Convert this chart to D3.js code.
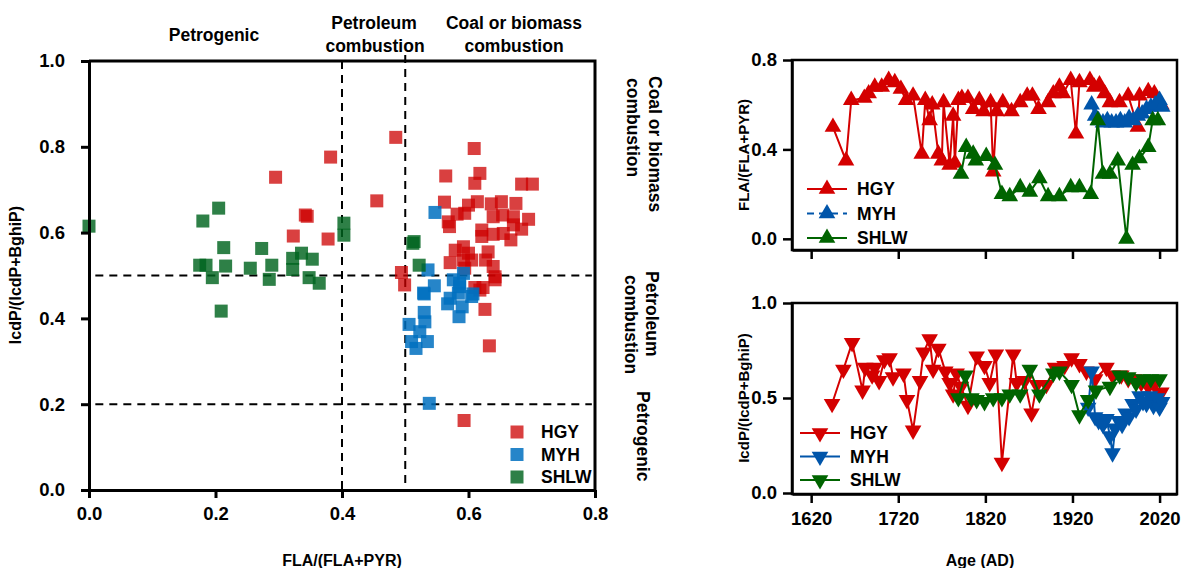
<!DOCTYPE html>
<html>
<head>
<meta charset="utf-8">
<script src="https://cdn.jsdelivr.net/npm/d3@7"></script>
<style>
  body { margin: 0; background: #fff; }
  text { font-family: "Liberation Sans", Arial, sans-serif; font-weight: bold; fill: #000; }
</style>
</head>
<body>
<div id="main-diagram"></div>
<script>
// ---- scatter data : FLA/(FLA+PYR) vs IcdP/(IcdP+BghiP)
const hgyFla = [0.382, 0.295, 0.342, 0.345, 0.323, 0.378, 0.485, 0.455, 0.609, 0.564, 0.618, 0.610, 0.684, 0.701,
  0.562, 0.614, 0.600, 0.636, 0.652, 0.675, 0.639, 0.654, 0.671, 0.695, 0.568, 0.582, 0.594, 0.570, 0.671, 0.684,
  0.621, 0.621, 0.639, 0.655, 0.667, 0.592, 0.579, 0.600, 0.605, 0.631, 0.627, 0.639, 0.571, 0.592, 0.594, 0.642,
  0.494, 0.499, 0.610, 0.623, 0.626, 0.633, 0.593, 0.618, 0.642]
const hgyIcd = [0.776, 0.729, 0.641, 0.638, 0.592, 0.585, 0.822, 0.674, 0.796, 0.732, 0.738, 0.715, 0.713, 0.713,
  0.671, 0.672, 0.664, 0.667, 0.672, 0.668, 0.637, 0.641, 0.637, 0.631, 0.625, 0.643, 0.645, 0.614, 0.618, 0.608,
  0.606, 0.591, 0.596, 0.598, 0.583, 0.567, 0.559, 0.552, 0.536, 0.555, 0.536, 0.521, 0.530, 0.536, 0.517, 0.497,
  0.507, 0.478, 0.472, 0.472, 0.421, 0.336, 0.162, 0.466, 0.490]

const myhFla = [0.547, 0.536, 0.546, 0.529, 0.576, 0.592, 0.586, 0.605, 0.571, 0.530, 0.567, 0.584, 0.590, 0.585,
  0.607, 0.530, 0.531, 0.506, 0.523, 0.510, 0.535, 0.517, 0.538, 0.586]
const myhIcd = [0.647, 0.513, 0.476, 0.459, 0.490, 0.505, 0.474, 0.451, 0.447, 0.457, 0.434, 0.459, 0.427, 0.404,
  0.457, 0.414, 0.392, 0.386, 0.369, 0.346, 0.346, 0.330, 0.202, 0.482]

const shlwFla = [0.000, 0.180, 0.205, 0.213, 0.273, 0.175, 0.185, 0.195, 0.216, 0.255, 0.289, 0.285, 0.322, 0.322,
  0.336, 0.353, 0.348, 0.364, 0.403, 0.403, 0.209, 0.514, 0.512, 0.522]
const shlwIcd = [0.615, 0.627, 0.657, 0.565, 0.563, 0.524, 0.524, 0.495, 0.522, 0.517, 0.524, 0.491, 0.540, 0.514,
  0.552, 0.538, 0.495, 0.482, 0.622, 0.594, 0.417, 0.579, 0.575, 0.524]

// ---- time series : FLA/(FLA+PYR)
const hgyFlaYears = [1645, 1660, 1666, 1681, 1686, 1693, 1701, 1709, 1716, 1723, 1729, 1737, 1747, 1751, 1756, 1759,
  1766, 1770, 1772, 1779, 1783, 1785, 1789, 1793, 1800, 1806, 1813, 1818, 1826, 1829, 1833, 1840, 1850, 1860, 1868,
  1874, 1881, 1892, 1898, 1905, 1909, 1918, 1924, 1928, 1940, 1945, 1951, 1957, 1963, 1974, 1984, 1995, 1997, 2007,
  2014, 2022]
const hgyFlaValues = [0.50, 0.35, 0.62, 0.63, 0.65, 0.68, 0.68, 0.71, 0.70, 0.67, 0.62, 0.64, 0.38, 0.62, 0.53, 0.60,
  0.38, 0.35, 0.61, 0.33, 0.55, 0.34, 0.62, 0.63, 0.63, 0.58, 0.62, 0.57, 0.61, 0.30, 0.57, 0.61, 0.57, 0.61, 0.64,
  0.64, 0.58, 0.61, 0.65, 0.68, 0.65, 0.71, 0.47, 0.70, 0.71, 0.68, 0.69, 0.65, 0.61, 0.61, 0.64, 0.50, 0.64, 0.66,
  0.65, 0.60]
const myhFlaYears = [1942, 1946, 1950, 1955, 1960, 1965, 1970, 1975, 1980, 1985, 1990, 1995, 2000, 2005, 2010, 2015,
  2020, 2023]
const myhFlaValues = [0.60, 0.55, 0.53, 0.52, 0.53, 0.52, 0.52, 0.53, 0.52, 0.54, 0.53, 0.55, 0.56, 0.58, 0.59, 0.60,
  0.62, 0.59]
const shlwFlaYears = [1792, 1798, 1806, 1809, 1821, 1831, 1839, 1848, 1860, 1871, 1882, 1892, 1905, 1918, 1928, 1941,
  1949, 1955, 1963, 1972, 1982, 1989, 1997, 2007, 2012, 2018]
const shlwFlaValues = [0.29, 0.41, 0.38, 0.35, 0.37, 0.33, 0.20, 0.19, 0.23, 0.21, 0.27, 0.19, 0.19, 0.23, 0.23, 0.20,
  0.53, 0.29, 0.29, 0.35, 0.00, 0.33, 0.36, 0.41, 0.53, 0.53]

// ---- time series : IcdP/(IcdP+BghiP)
const hgyIcdYears = [1644, 1657, 1667, 1679, 1682, 1690, 1693, 1698, 1704, 1710, 1714, 1726, 1730, 1737, 1745, 1749,
  1756, 1760, 1766, 1774, 1779, 1783, 1787, 1792, 1800, 1810, 1819, 1825, 1832, 1839, 1852, 1856, 1865, 1873, 1879,
  1890, 1900, 1911, 1919, 1928, 1936, 1946, 1959, 1966, 1976, 1984, 1991, 1999, 2007, 2014, 2022]
const hgyIcdValues = [0.47, 0.65, 0.79, 0.54, 0.66, 0.62, 0.66, 0.59, 0.70, 0.71, 0.61, 0.63, 0.49, 0.33, 0.59, 0.74,
  0.81, 0.65, 0.76, 0.64, 0.58, 0.52, 0.63, 0.56, 0.46, 0.72, 0.67, 0.58, 0.73, 0.16, 0.73, 0.58, 0.59, 0.42, 0.57,
  0.57, 0.66, 0.67, 0.71, 0.68, 0.64, 0.60, 0.66, 0.62, 0.62, 0.60, 0.60, 0.58, 0.56, 0.57, 0.53]
const myhIcdYears = [1938, 1942, 1946, 1950, 1955, 1959, 1963, 1966, 1969, 1973, 1977, 1981, 1985, 1989, 1993, 1997,
  2001, 2005, 2009, 2013, 2017, 2020, 2023]
const myhIcdValues = [0.45, 0.64, 0.40, 0.38, 0.36, 0.39, 0.30, 0.21, 0.34, 0.38, 0.36, 0.42, 0.40, 0.47, 0.44, 0.51,
  0.48, 0.47, 0.51, 0.46, 0.50, 0.45, 0.48]
const shlwIcdYears = [1789, 1797, 1804, 1810, 1819, 1829, 1839, 1848, 1860, 1871, 1882, 1898, 1905, 1919, 1928, 1938,
  1947, 1963, 1974, 1984, 1993, 2001, 2010, 2020]
const shlwIcdValues = [0.50, 0.62, 0.50, 0.49, 0.48, 0.50, 0.50, 0.52, 0.52, 0.65, 0.52, 0.63, 0.64, 0.57, 0.41, 0.49,
  0.54, 0.56, 0.62, 0.61, 0.58, 0.60, 0.60, 0.60]

const sites = ['HGY', 'MYH', 'SHLW']
const squareColors = ['#cc0000', '#0070c0', '#00641e']
const squareOpacity = [0.75, 0.85, 0.82]
const lineColors = ['#d40000', '#0055aa', '#006400']

const xTicksLeft = [0, 0.2, 0.4, 0.6, 0.8]
const yTicksLeft = [0, 0.2, 0.4, 0.6, 0.8, 1.0]
const yearTicks = [1620, 1720, 1820, 1920, 2020]
const flaTicks = [0, 0.4, 0.8]
const icdTicks = [0, 0.5, 1.0]

const width = 1182
const height = 568

const svg = d3.select('#main-diagram')
  .append('svg')
  .attr('width', width)
  .attr('height', height)
  .style('display', 'block')

svg.append('rect').attr('width', width).attr('height', height).attr('fill', '#fff')

const f1 = d3.format('.1f')

function styleAxis(g, w) {
  g.select('.domain').attr('stroke', '#000').attr('stroke-width', w)
  g.selectAll('.tick line').attr('stroke', '#000').attr('stroke-width', w)
  g.selectAll('.tick text').style('font-size', '18.5px').style('font-family', '"Liberation Sans", Arial, sans-serif')
    .style('font-weight', 'bold').attr('fill', '#000')
}

// ================= left scatter =================
const x = d3.scaleLinear().domain([0, 0.8]).range([89, 595])
const y = d3.scaleLinear().domain([0, 1]).range([490, 61])

// dashed guide lines
const dash = svg.append('g').attr('stroke', '#000').attr('stroke-width', 2).attr('stroke-dasharray', '8,6')
dash.append('line').attr('x1', x(0.4)).attr('x2', x(0.4)).attr('y1', y(1)).attr('y2', y(0))
dash.append('line').attr('x1', x(0.5)).attr('x2', x(0.5)).attr('y1', y(1) - 6).attr('y2', y(0))
dash.append('line').attr('x1', x(0.01)).attr('x2', x(0.795)).attr('y1', y(0.5)).attr('y2', y(0.5))
dash.append('line').attr('x1', x(0.01)).attr('x2', x(0.795)).attr('y1', y(0.2)).attr('y2', y(0.2))

const scatterSets = [[hgyFla, hgyIcd], [myhFla, myhIcd], [shlwFla, shlwIcd]]
const sq = 13
scatterSets.forEach(function (s, i) {
  svg.append('g').selectAll('rect')
    .data(s[0].map(function (v, j) { return [v, s[1][j]] }))
    .enter()
    .append('rect')
    .attr('x', function (d) { return x(d[0]) - sq / 2 })
    .attr('y', function (d) { return y(d[1]) - sq / 2 })
    .attr('width', sq)
    .attr('height', sq)
    .attr('fill', squareColors[i])
    .attr('fill-opacity', squareOpacity[i])
})

// frame
svg.append('path').attr('d', `M${x(0)},${y(1)}H${x(0.8)}V${y(0)}`)
  .attr('fill', 'none').attr('stroke', '#000').attr('stroke-width', 3)

svg.append('g').attr('transform', `translate(0,${y(0)})`)
  .call(d3.axisBottom(x).tickValues(xTicksLeft).tickFormat(f1).tickSize(8).tickPadding(9).tickSizeOuter(0))
  .call(g => styleAxis(g, 3))
svg.append('g').attr('transform', `translate(${x(0)},0)`)
  .call(d3.axisLeft(y).tickValues(yTicksLeft).tickFormat(f1).tickSize(8).tickPadding(16).tickSizeOuter(0))
  .call(g => styleAxis(g, 3))

// legend (squares)
sites.forEach(function (name, i) {
  const ly = 432 + i * 22.5
  svg.append('rect').attr('x', 517 - sq / 2).attr('y', ly - sq / 2).attr('width', sq).attr('height', sq)
    .attr('fill', squareColors[i]).attr('fill-opacity', squareOpacity[i])
  svg.append('text').attr('x', 541).attr('y', ly).attr('dy', '0.36em').style('font-size', '17.5px').text(name)
})

// region labels on top
function label(txt, px, py, size) {
  return svg.append('text').attr('x', px).attr('y', py).attr('text-anchor', 'middle')
    .style('font-size', (size || 17.5) + 'px').text(txt)
}
label('Petrogenic', 214, 41)
label('Petroleum', 374, 29)
label('combustion', 375, 52)
label('Coal or biomass', 514, 29)
label('combustion', 514, 52)

// region labels on the right (rotated)
function vlabel(txt, px, py) {
  svg.append('text').attr('transform', `translate(${px},${py}) rotate(90)`)
    .attr('dy', '0.35em').style('font-size', '17.5px').text(txt)
}
vlabel('Coal or biomass', 655, 76)
vlabel('combustion', 633, 78)
vlabel('Petroleum', 652, 271)
vlabel('combustion', 631, 275)
vlabel('Petrogenic', 643, 391)

// axis titles
svg.append('text').attr('x', 342).attr('y', 566).attr('text-anchor', 'middle').style('font-size', '16px').text('FLA/(FLA+PYR)')
svg.append('text').attr('transform', 'translate(21,275) rotate(-90)').attr('text-anchor', 'middle')
  .style('font-size', '16px').text('IcdP/(IcdP+BghiP)')

// ================= right time series =================
const xt = d3.scaleLinear().domain([1598, 2040]).range([792, 1177])
const yTop = d3.scaleLinear().domain([-0.05, 0.8]).range([250, 60])
const yBot = d3.scaleLinear().domain([0, 1]).range([493, 303])

const triUp = d3.symbol().type(d3.symbolTriangle).size(120)

function drawPanel(yScale, series, down) {
  series.forEach(function (s, i) {
    const pts = s[0].map(function (yr, j) { return [yr, s[1][j]] })
    svg.append('path')
      .datum(pts)
      .attr('fill', 'none')
      .attr('stroke', lineColors[i])
      .attr('stroke-width', 2)
      .attr('d', d3.line().x(d => xt(d[0])).y(d => yScale(d[1])))
    svg.append('g').selectAll('path')
      .data(pts)
      .enter()
      .append('path')
      .attr('d', triUp)
      .attr('transform', d => `translate(${xt(d[0])},${yScale(d[1])})` + (down ? ' rotate(180)' : ''))
      .attr('fill', lineColors[i])
  })
}

drawPanel(yTop, [[hgyFlaYears, hgyFlaValues], [myhFlaYears, myhFlaValues], [shlwFlaYears, shlwFlaValues]], false)
drawPanel(yBot, [[hgyIcdYears, hgyIcdValues], [myhIcdYears, myhIcdValues], [shlwIcdYears, shlwIcdValues]], true)

// frames + axes
svg.append('rect').attr('x', 792).attr('y', 60).attr('width', 1177 - 792).attr('height', 190)
  .attr('fill', 'none').attr('stroke', '#000').attr('stroke-width', 2.5)
svg.append('rect').attr('x', 792).attr('y', 303).attr('width', 1177 - 792).attr('height', 191)
  .attr('fill', 'none').attr('stroke', '#000').attr('stroke-width', 2.5)

svg.append('g').attr('transform', 'translate(0,250)')
  .call(d3.axisBottom(xt).tickValues(yearTicks).tickFormat('').tickSize(9).tickSizeOuter(0))
  .call(g => styleAxis(g, 2.5))
svg.append('g').attr('transform', 'translate(792,0)')
  .call(d3.axisLeft(yTop).tickValues(flaTicks).tickFormat(f1).tickSize(9).tickPadding(6).tickSizeOuter(0))
  .call(g => styleAxis(g, 2.5))
svg.append('g').attr('transform', 'translate(0,494)')
  .call(d3.axisBottom(xt).tickValues(yearTicks).tickFormat(d3.format('d')).tickSize(9).tickPadding(9).tickSizeOuter(0))
  .call(g => styleAxis(g, 2.5))
svg.append('g').attr('transform', 'translate(792,0)')
  .call(d3.axisLeft(yBot).tickValues(icdTicks).tickFormat(f1).tickSize(9).tickPadding(6).tickSizeOuter(0))
  .call(g => styleAxis(g, 2.5))

// line legends
function lineLegend(x0, y0, step, down) {
  sites.forEach(function (name, i) {
    const ly = y0 + i * step
    const ln = svg.append('line').attr('x1', x0).attr('x2', x0 + 40).attr('y1', ly).attr('y2', ly)
      .attr('stroke', lineColors[i]).attr('stroke-width', 2)
    if (i === 1 && !down) ln.attr('stroke-dasharray', '7,5')
    svg.append('path').attr('d', triUp)
      .attr('transform', `translate(${x0 + 20},${ly})` + (down ? ' rotate(180)' : ''))
      .attr('fill', lineColors[i])
    svg.append('text').attr('x', x0 + 50).attr('y', ly).attr('dy', '0.36em').style('font-size', '17.5px').text(name)
  })
}
lineLegend(807, 189, 24.5, false)
lineLegend(800, 433, 23.5, true)

// right axis titles
svg.append('text').attr('transform', 'translate(749,155) rotate(-90)').attr('text-anchor', 'middle')
  .style('font-size', '15px').text('FLA/(FLA+PYR)')
svg.append('text').attr('transform', 'translate(749,398) rotate(-90)').attr('text-anchor', 'middle')
  .style('font-size', '15px').text('IcdP/(IcdP+BghiP)')
svg.append('text').attr('x', 980).attr('y', 566).attr('text-anchor', 'middle').style('font-size', '16px').text('Age (AD)')
</script>
</body>
</html>
